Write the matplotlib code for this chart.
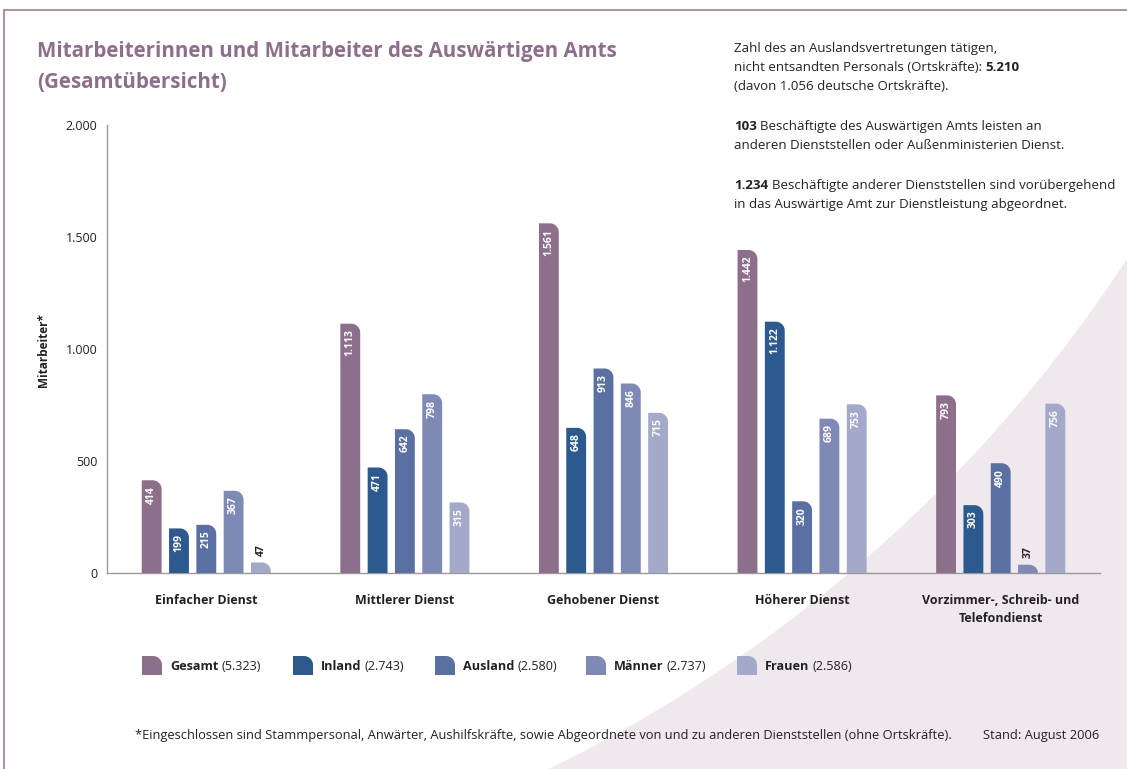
import numpy as np
import matplotlib
matplotlib.use("Agg")
import matplotlib.pyplot as plt
from matplotlib.path import Path
from matplotlib.patches import PathPatch, Ellipse
from matplotlib.lines import Line2D

# ---------------- data ----------------
categories = ["Einfacher Dienst", "Mittlerer Dienst", "Gehobener Dienst",
              "Höherer Dienst", "Vorzimmer-, Schreib- und\nTelefondienst"]
series_names = ["Gesamt", "Inland", "Ausland", "Männer", "Frauen"]
series_totals = ["5.323", "2.743", "2.580", "2.737", "2.586"]
gesamt = [414, 1113, 1561, 1442, 793]
inland = [199, 471, 648, 1122, 303]
ausland = [215, 642, 913, 320, 490]
maenner = [367, 798, 846, 689, 37]
frauen = [47, 315, 715, 753, 756]
yticks = [0, 500, 1000, 1500, 2000]
ytick_labels = ["0", "500", "1.000", "1.500", "2.000"]

title = "Mitarbeiterinnen und Mitarbeiter des Auswärtigen Amts\n(Gesamtübersicht)"
ylabel = "Mitarbeiter*"
footnote = ("*Eingeschlossen sind Stammpersonal, Anwärter, Aushilfskräfte, sowie Abgeordnete "
            "von und zu anderen Dienststellen (ohne Ortskräfte).")
stand = "Stand: August 2006"
info_lines = [
    [("Zahl des an Auslandsvertretungen tätigen,", False)],
    [("nicht entsandten Personals (Ortskräfte):", False), (" ", False), ("5.210", True)],
    [("(davon 1.056 deutsche Ortskräfte).", False)],
    None,
    [("103", True), (" ", False), ("Beschäftigte des Auswärtigen Amts leisten an", False)],
    [("anderen Dienststellen oder Außenministerien Dienst.", False)],
    None,
    [("1.234", True), (" ", False), ("Beschäftigte anderer Dienststellen sind vorübergehend", False)],
    [("in das Auswärtige Amt zur Dienstleistung abgeordnet.", False)],
]

series = [gesamt, inland, ausland, maenner, frauen]
colors = ["#8d6f8c", "#2c5a8f", "#5a70a2", "#7f89b6", "#a2a9c9"]
mauve = "#8d6f8c"
pink_bg = "#efe8ee"

W, H = 1127, 769
DPI = 100
plt.rcParams['font.family'] = ['Open Sans', 'DejaVu Sans']

fig = plt.figure(figsize=(W / DPI, H / DPI), dpi=DPI)
fig.patch.set_facecolor(pink_bg)

def fx(x):
    return x / W

def fy(y):
    return 1 - y / H

# white circle that leaves the pink curved area at the lower right
r = 1452
circ = Ellipse((fx(-88), fy(-536)), 2 * r / W, 2 * r / H, transform=fig.transFigure,
               facecolor="white", edgecolor="none", zorder=0)
fig.patches.append(circ)

# frame lines (top and left)
fig.add_artist(Line2D([fx(4), fx(W + 5)], [fy(10), fy(10)], transform=fig.transFigure,
                      color="#a585a3", lw=1.3, zorder=1))
fig.add_artist(Line2D([fx(4), fx(4)], [fy(10), fy(H + 5)], transform=fig.transFigure,
                      color="#a585a3", lw=1.3, zorder=1))

# axes
ax_l, ax_r, ax_t, ax_b = 107, 1100, 125, 573
ax = fig.add_axes([fx(ax_l), fy(ax_b), fx(ax_r - ax_l), (ax_b - ax_t) / H])
ax.set_facecolor("none")
ax.set_zorder(2)
ax.set_xlim(-0.5, len(categories) - 0.5)
ax.set_ylim(0, 2000)
for s in ["top", "right"]:
    ax.spines[s].set_visible(False)
for s in ["left", "bottom"]:
    ax.spines[s].set_color("#9a9a9a")
    ax.spines[s].set_linewidth(1.0)
ax.set_yticks(yticks)
ax.set_yticklabels(ytick_labels)
ax.tick_params(axis="y", length=0, pad=7, labelsize=9, labelcolor="#222222")
ax.set_xticks(range(len(categories)))
ax.set_xticklabels(categories, fontweight="bold", fontsize=9, color="#222222",
                   linespacing=1.5)
ax.tick_params(axis="x", length=0, pad=15)

# pixel scale of data units
p0 = ax.transData.transform((0, 0))
p1 = ax.transData.transform((1, 1))
px_x = p1[0] - p0[0]
px_y = p1[1] - p0[1]

bar_w = 0.1
step = 0.1375
r_px = 9.0

def rounded_path(x0, w, h, rx, ry):
    ry = min(ry, h)
    t = np.linspace(0, np.pi / 2, 20)
    arc = [(x0 + w - rx + rx * np.cos(a), h - ry + ry * np.sin(a)) for a in t]
    verts = [(x0, 0), (x0 + w, 0)] + arc + [(x0, h), (x0, 0)]
    codes = [Path.MOVETO] + [Path.LINETO] * (len(verts) - 2) + [Path.CLOSEPOLY]
    return Path(verts, codes)

def fmt(v):
    return f"{v:,}".replace(",", ".")

for si, (vals, col) in enumerate(zip(series, colors)):
    offs = (si - 2) * step
    for ci, v in enumerate(vals):
        xc = ci + offs
        path = rounded_path(xc - bar_w / 2, bar_w, v, r_px / px_x, r_px / px_y)
        ax.add_patch(PathPatch(path, facecolor=col, edgecolor="none", zorder=3))
        if v * px_y > 30:
            ax.annotate(fmt(v), (xc, v), xytext=(0, -4), textcoords="offset points",
                        rotation=90, ha="center", va="top", color="white",
                        fontsize=7.5, fontweight="bold", zorder=4)
        else:
            ax.annotate(fmt(v), (xc, v), xytext=(0, 5), textcoords="offset points",
                        rotation=90, ha="center", va="bottom", color="#222222",
                        fontsize=7.5, fontweight="bold", zorder=4)

# y label
fig.text(fx(43), fy(350), ylabel, rotation=90, ha="center", va="center",
         fontsize=8.5, fontweight="bold", color="#222222")

# title
fig.text(fx(37), fy(41), title, ha="left", va="top", fontsize=14.8,
         fontweight="bold", color=mauve, linespacing=1.62)

renderer = fig.canvas.get_renderer()

def rich_line(x, y, pieces, size, color="#222222"):
    cx = x
    for txt, bold in pieces:
        if txt == " ":
            a = fig.text(0, 0, "a a", fontsize=size)
            b = fig.text(0, 0, "aa", fontsize=size)
            sw = a.get_window_extent(renderer).width - b.get_window_extent(renderer).width
            a.remove(); b.remove()
            cx += sw
            continue
        t = fig.text(fx(cx), fy(y), txt, ha="left", va="baseline", fontsize=size,
                     fontweight="bold" if bold else "normal", color=color)
        cx += t.get_window_extent(renderer).width
    return cx

# info text on the right
y = 52
for line in info_lines:
    if line is None:
        y += 21
        continue
    rich_line(734, y, line, 9.5)
    y += 19

# legend
leg_x = [142, 293, 435, 586, 737]
for name, tot, col, lx in zip(series_names, series_totals, colors, leg_x):
    w, h = 20, 19
    x0, y0 = fx(lx), fy(675)
    path = rounded_path(0, w, h, 9, 9)
    verts = [(x0 + vx / W, y0 + vy / H) for vx, vy in path.vertices]
    p = PathPatch(Path(verts, path.codes), transform=fig.transFigure,
                  facecolor=col, edgecolor="none")
    fig.patches.append(p)
    rich_line(lx + 28, 670, [(name, True), (" ", False), ("(" + tot + ")", False)], 9.1)

# footnote
fig.text(fx(135), fy(739), footnote, ha="left", va="baseline", fontsize=9.3,
         color="#222222")
fig.text(fx(1099), fy(739), stand, ha="right", va="baseline", fontsize=9.3,
         color="#222222")

fig.savefig("out.png", dpi=DPI, facecolor=fig.get_facecolor())
